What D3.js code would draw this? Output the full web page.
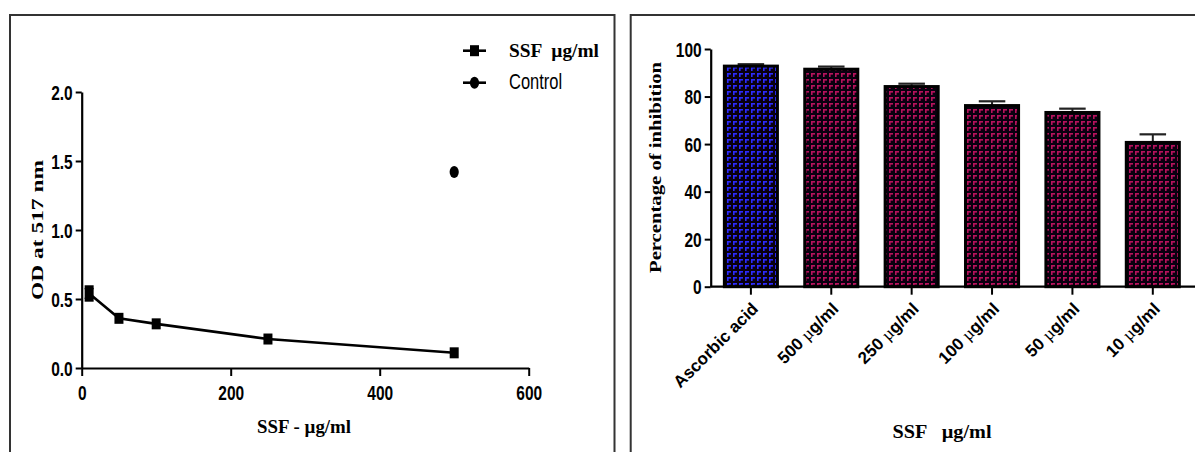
<!DOCTYPE html>
<html>
<head>
<meta charset="utf-8">
<script src="https://cdn.jsdelivr.net/npm/d3@7"></script>
<style>
  body { margin: 0; background: #fff; }
  svg { display: block; }
</style>
</head>
<body>
<div id="chart"></div>
<script>
const width = 1195;
const height = 452;

// left panel: OD at 517 nm vs SSF concentration
const ssfConc = [10, 50, 100, 250, 500];
const ssfOD = [0.54, 0.36, 0.32, 0.21, 0.11];
const ssfErr = [0.045, 0, 0, 0, 0];
const controlConc = [500];
const controlOD = [1.42];
const odTicks = [0, 0.5, 1.0, 1.5, 2.0];
const concTicks = [0, 200, 400, 600];

// right panel: percentage of inhibition
const barLabels = ["Ascorbic acid", "500 µg/ml", "250 µg/ml", "100 µg/ml", "50 µg/ml", "10 µg/ml"];
const inhibition = [92.8, 91.5, 84.2, 76.2, 73.3, 60.7];
const inhibitionErr = [0.8, 1.1, 1.2, 1.8, 1.6, 3.4];
const pctTicks = [0, 20, 40, 60, 80, 100];

const serif = "'Liberation Serif', 'Times New Roman', serif";
const sans = "'Liberation Sans', Arial, sans-serif";
const stretch = 1.3; // text in the figure is squeezed horizontally

const svg = d3.select("#chart").append("svg")
	.attr("width", width)
	.attr("height", height);

svg.append("rect").attr("width", width).attr("height", height).attr("fill", "#fff");

// bar patterns
const defs = svg.append("defs");
function brick(id, col) {
	const p = defs.append("pattern")
		.attr("id", id)
		.attr("patternUnits", "userSpaceOnUse")
		.attr("width", 6).attr("height", 6);
	p.append("rect").attr("width", 6).attr("height", 6).attr("fill", "#0a0010");
	p.append("rect").attr("x", 1).attr("y", 1).attr("width", 4).attr("height", 1.6).attr("fill", col);
	p.append("rect").attr("x", 1).attr("y", 1).attr("width", 1.6).attr("height", 4).attr("fill", col);
}
brick("patBlue", "#2b2bff");
brick("patRed", "#b8125c");

// panel frames
svg.append("path")
	.attr("d", "M10,460V15H614.5V460")
	.attr("fill", "none").attr("stroke", "#333").attr("stroke-width", 2);
svg.append("path")
	.attr("d", "M630.7,460V15H1200")
	.attr("fill", "none").attr("stroke", "#333").attr("stroke-width", 2);

function styleAxis(g) {
	g.select(".domain").attr("stroke", "#000").attr("stroke-width", 2.2);
	g.selectAll(".tick line").attr("stroke", "#000").attr("stroke-width", 2);
	g.selectAll(".tick text")
		.attr("fill", "#000")
		.style("font-family", sans)
		.style("font-weight", "bold")
		.style("font-size", "15.5px");
}

// ---------- left chart ----------
const xL = d3.scaleLinear().domain([0, 600]).range([81.7, 528.7]);
const yL = d3.scaleLinear().domain([0, 2]).range([368, 92]);

const gyL = svg.append("g")
	.attr("transform", "translate(" + xL(0) + ",0)")
	.call(d3.axisLeft(yL).tickValues(odTicks).tickFormat(d3.format(".1f")).tickSize(6).tickSizeOuter(0));
styleAxis(gyL);
gyL.selectAll(".tick text")
	.attr("x", null).attr("dy", null)
	.attr("dy", "0.36em")
	.attr("transform", "translate(-9,0) scale(1," + stretch + ")");

const gxL = svg.append("g")
	.attr("transform", "translate(0," + yL(0) + ")")
	.call(d3.axisBottom(xL).tickValues(concTicks).tickSize(8).tickSizeOuter(0));
styleAxis(gxL);
gxL.selectAll(".tick text")
	.attr("y", null).attr("dy", "0.36em")
	.attr("transform", "translate(0,25) scale(1," + stretch + ")");

const ssf = ssfConc.map((c, i) => ({ c: c, v: ssfOD[i], e: ssfErr[i] }));

svg.append("path")
	.datum(ssf)
	.attr("fill", "none")
	.attr("stroke", "#000")
	.attr("stroke-width", 2.6)
	.attr("d", d3.line().x(d => xL(d.c)).y(d => yL(d.v)));

// error bars (mostly hidden behind markers)
const eb = svg.append("g");
ssf.filter(d => d.e > 0).forEach(d => {
	eb.append("line")
		.attr("x1", xL(d.c)).attr("x2", xL(d.c))
		.attr("y1", yL(d.v - d.e)).attr("y2", yL(d.v + d.e))
		.attr("stroke", "#000").attr("stroke-width", 2);
	[d.v - d.e, d.v + d.e].forEach(v => {
		eb.append("rect")
			.attr("x", xL(d.c) - 4.5).attr("width", 9)
			.attr("y", yL(v) - 2).attr("height", 4)
			.attr("fill", "#000");
	});
});

svg.append("g").selectAll("rect")
	.data(ssf)
	.join("rect")
	.attr("x", d => xL(d.c) - 4.5)
	.attr("y", d => yL(d.v) - 5.5)
	.attr("width", 9)
	.attr("height", 11)
	.attr("fill", "#000");

svg.append("g").selectAll("ellipse")
	.data(controlConc.map((c, i) => ({ c: c, v: controlOD[i] })))
	.join("ellipse")
	.attr("cx", d => xL(d.c))
	.attr("cy", d => yL(d.v))
	.attr("rx", 4.6)
	.attr("ry", 6)
	.attr("fill", "#000");

// legend
const leg = svg.append("g");
leg.append("line").attr("x1", 463).attr("x2", 486).attr("y1", 50.7).attr("y2", 50.7)
	.attr("stroke", "#000").attr("stroke-width", 2.6);
leg.append("rect").attr("x", 470).attr("y", 45.2).attr("width", 9).attr("height", 11).attr("fill", "#000");
leg.append("text")
	.attr("transform", "translate(509,57) scale(1,1.15)")
	.attr("textLength", 90)
	.attr("lengthAdjust", "spacingAndGlyphs")
	.style("font-family", serif).style("font-weight", "bold").style("font-size", "17px")
	.attr("xml:space", "preserve")
	.text("SSF  µg/ml");

leg.append("line").attr("x1", 463).attr("x2", 486).attr("y1", 82.7).attr("y2", 82.7)
	.attr("stroke", "#000").attr("stroke-width", 2.6);
leg.append("ellipse").attr("cx", 474.5).attr("cy", 82.7).attr("rx", 4.6).attr("ry", 6).attr("fill", "#000");
leg.append("text")
	.attr("transform", "translate(509,88.5) scale(1," + stretch + ")")
	.style("font-family", sans).style("font-size", "16.5px")
	.text("Control");

svg.append("text")
	.attr("transform", "translate(43,230) rotate(-90)")
	.attr("text-anchor", "middle")
	.attr("textLength", 140)
	.attr("lengthAdjust", "spacingAndGlyphs")
	.style("font-family", serif).style("font-weight", "bold").style("font-size", "16px")
	.text("OD at 517 nm");

svg.append("text")
	.attr("transform", "translate(304,433) scale(1,1.15)")
	.attr("text-anchor", "middle")
	.attr("textLength", 94)
	.attr("lengthAdjust", "spacingAndGlyphs")
	.style("font-family", serif).style("font-weight", "bold").style("font-size", "17px")
	.text("SSF - µg/ml");

// ---------- right chart ----------
const xR = d3.scaleBand().domain(barLabels).range([710.7, 1193]).paddingInner(0.34).paddingOuter(0.17);
const yR = d3.scaleLinear().domain([0, 100]).range([286.7, 49]);

const gyR = svg.append("g")
	.attr("transform", "translate(" + xR.range()[0] + ",0)")
	.call(d3.axisLeft(yR).tickValues(pctTicks).tickSize(6).tickSizeOuter(0));
styleAxis(gyR);
gyR.selectAll(".tick text")
	.attr("x", null).attr("dy", "0.36em")
	.attr("transform", "translate(-9,0) scale(1," + stretch + ")");

const bars = barLabels.map((l, i) => ({ l: l, v: inhibition[i], e: inhibitionErr[i], i: i }));

// error bars (upper only)
const ebR = svg.append("g");
ebR.selectAll("line.v")
	.data(bars).join("line").attr("class", "v")
	.attr("x1", d => xR(d.l) + xR.bandwidth() / 2)
	.attr("x2", d => xR(d.l) + xR.bandwidth() / 2)
	.attr("y1", d => yR(d.v))
	.attr("y2", d => yR(d.v + d.e))
	.attr("stroke", "#222").attr("stroke-width", 2);
ebR.selectAll("line.c")
	.data(bars).join("line").attr("class", "c")
	.attr("x1", d => xR(d.l) + xR.bandwidth() / 4)
	.attr("x2", d => xR(d.l) + xR.bandwidth() * 3 / 4)
	.attr("y1", d => yR(d.v + d.e))
	.attr("y2", d => yR(d.v + d.e))
	.attr("stroke", "#222").attr("stroke-width", 2.2);

svg.append("g").selectAll("rect")
	.data(bars)
	.join("rect")
	.attr("x", d => xR(d.l))
	.attr("y", d => yR(d.v))
	.attr("width", xR.bandwidth())
	.attr("height", d => yR(0) - yR(d.v))
	.attr("fill", d => d.i === 0 ? "url(#patBlue)" : "url(#patRed)")
	.attr("stroke", "#000")
	.attr("stroke-width", 3);

const gxR = svg.append("g")
	.attr("transform", "translate(0," + yR(0) + ")")
	.call(d3.axisBottom(xR).tickSize(8).tickSizeOuter(0));
gxR.select(".domain").remove();
gxR.append("line")
	.attr("x1", xR.range()[0]).attr("x2", width)
	.attr("stroke", "#000").attr("stroke-width", 2.2);
styleAxis(gxR);
gxR.selectAll(".tick text").remove();
gxR.selectAll(".tick").each(function(d) {
	const parts = d.split(" µ");
	const t = d3.select(this).append("text")
		.attr("transform", "translate(4,19) rotate(-45)")
		.attr("text-anchor", "end")
		.attr("dy", "0.35em")
		.attr("fill", "#000")
		.style("font-family", sans)
		.style("font-weight", "bold")
		.style("font-size", "17px");
	if (parts.length === 1) {
		t.text(d);
	} else {
		t.append("tspan").text(parts[0] + " ");
		t.append("tspan").style("font-family", serif).style("font-weight", "normal").text("µ");
		t.append("tspan").text(parts[1]);
	}
});

svg.append("text")
	.attr("transform", "translate(661,167.5) rotate(-90)")
	.attr("text-anchor", "middle")
	.attr("textLength", 211)
	.attr("lengthAdjust", "spacingAndGlyphs")
	.style("font-family", serif).style("font-weight", "bold").style("font-size", "16px")
	.text("Percentage of inhibition");

svg.append("text")
	.attr("transform", "translate(942,438) scale(1,1.15)")
	.attr("text-anchor", "middle")
	.attr("textLength", 99)
	.attr("lengthAdjust", "spacingAndGlyphs")
	.attr("xml:space", "preserve")
	.style("font-family", serif).style("font-weight", "bold").style("font-size", "17px")
	.text("SSF   µg/ml");
</script>
</body>
</html>
